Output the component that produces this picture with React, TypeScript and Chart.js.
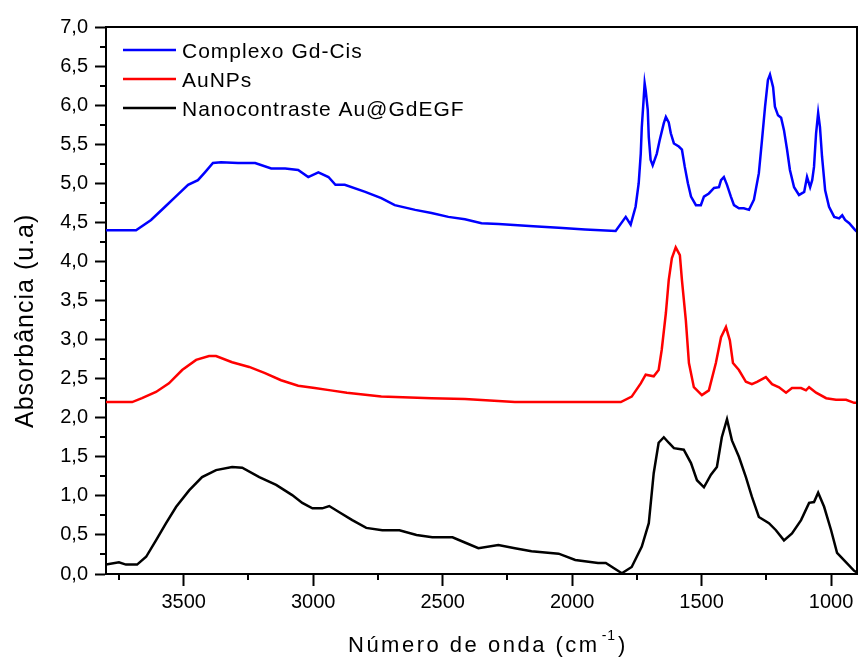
import React, { useEffect, useRef } from 'react';
import { Chart, registerables } from 'chart.js';

Chart.register(...registerables);

const FONT = "'Liberation Sans', Arial, sans-serif";

// Tick values
const xTickValues = [3500, 3000, 2500, 2000, 1500, 1000];
const xMinorValues = [3750, 3250, 2750, 2250, 1750, 1250];
const yTickValues = [0, 0.5, 1, 1.5, 2, 2.5, 3, 3.5, 4, 4.5, 5, 5.5, 6, 6.5, 7];
const yMinorValues = [0.25, 0.75, 1.25, 1.75, 2.25, 2.75, 3.25, 3.75, 4.25, 4.75, 5.25, 5.75, 6.25, 6.75];

const seriesNames = ['Complexo Gd-Cis', 'AuNPs', 'Nanocontraste Au@GdEGF'];
const seriesColors = ['#0000ff', '#ff0000', '#000000'];

// Complexo Gd-Cis (blue)
const blueX = [3800, 3684, 3626, 3572, 3534, 3483, 3445, 3418, 3387, 3356, 3290, 3224, 3162, 3108, 3058, 3019, 2980, 2941, 2914, 2878, 2799, 2737, 2685, 2606, 2543, 2478, 2414, 2350, 2284, 2150, 2052, 1950, 1832, 1793, 1774, 1755, 1743, 1735, 1731, 1724, 1720, 1716, 1708, 1704, 1697, 1689, 1673, 1662, 1646, 1638, 1627, 1619, 1607, 1588, 1576, 1565, 1553, 1541, 1522, 1503, 1491, 1472, 1452, 1433, 1425, 1414, 1402, 1387, 1375, 1356, 1337, 1317, 1298, 1279, 1267, 1255, 1244, 1236, 1224, 1217, 1205, 1193, 1182, 1170, 1159, 1143, 1124, 1104, 1093, 1081, 1073, 1066, 1058, 1050, 1043, 1035, 1023, 1008, 988, 969, 957, 946, 930, 907, 900];
const blueY = [4.40, 4.40, 4.53, 4.70, 4.82, 4.98, 5.04, 5.14, 5.26, 5.27, 5.26, 5.26, 5.19, 5.19, 5.17, 5.08, 5.14, 5.08, 4.98, 4.98, 4.89, 4.81, 4.72, 4.66, 4.62, 4.57, 4.54, 4.49, 4.48, 4.45, 4.43, 4.41, 4.39, 4.57, 4.47, 4.70, 5.00, 5.38, 5.72, 6.07, 6.28, 6.19, 5.94, 5.59, 5.30, 5.23, 5.38, 5.55, 5.77, 5.85, 5.78, 5.64, 5.51, 5.47, 5.43, 5.21, 5.00, 4.83, 4.72, 4.72, 4.83, 4.87, 4.94, 4.95, 5.04, 5.08, 4.98, 4.83, 4.72, 4.68, 4.68, 4.66, 4.79, 5.13, 5.55, 5.98, 6.32, 6.39, 6.23, 5.98, 5.87, 5.84, 5.68, 5.43, 5.17, 4.95, 4.85, 4.89, 5.08, 4.95, 5.04, 5.21, 5.64, 5.90, 5.72, 5.34, 4.91, 4.70, 4.57, 4.55, 4.59, 4.53, 4.49, 4.40, 4.38];

// AuNPs (red)
const redX = [3800, 3699, 3661, 3607, 3557, 3506, 3452, 3402, 3375, 3313, 3247, 3186, 3124, 3058, 2994, 2932, 2870, 2737, 2543, 2414, 2221, 2000, 1812, 1770, 1735, 1716, 1685, 1666, 1654, 1638, 1627, 1615, 1600, 1584, 1576, 1561, 1549, 1530, 1499, 1472, 1445, 1425, 1406, 1391, 1379, 1356, 1329, 1306, 1286, 1252, 1228, 1201, 1174, 1151, 1116, 1097, 1085, 1058, 1019, 981, 942, 911, 900];
const redY = [2.20, 2.20, 2.25, 2.33, 2.44, 2.61, 2.74, 2.79, 2.79, 2.71, 2.65, 2.57, 2.48, 2.41, 2.38, 2.35, 2.32, 2.27, 2.25, 2.24, 2.20, 2.20, 2.20, 2.27, 2.44, 2.55, 2.53, 2.61, 2.87, 3.34, 3.76, 4.04, 4.18, 4.08, 3.76, 3.25, 2.70, 2.39, 2.29, 2.35, 2.70, 3.03, 3.16, 2.99, 2.70, 2.61, 2.46, 2.43, 2.46, 2.52, 2.43, 2.39, 2.32, 2.38, 2.38, 2.35, 2.39, 2.32, 2.25, 2.23, 2.23, 2.19, 2.19];

// Nanocontraste Au@GdEGF (black)
const blackX = [3800, 3750, 3723, 3680, 3645, 3607, 3568, 3529, 3479, 3429, 3375, 3313, 3274, 3208, 3143, 3081, 3042, 3003, 2965, 2938, 2899, 2849, 2795, 2733, 2667, 2601, 2540, 2462, 2412, 2362, 2285, 2221, 2157, 2052, 1988, 1900, 1870, 1808, 1770, 1731, 1704, 1685, 1666, 1646, 1627, 1607, 1569, 1541, 1518, 1491, 1464, 1441, 1422, 1402, 1383, 1356, 1329, 1306, 1279, 1240, 1213, 1182, 1151, 1116, 1085, 1066, 1050, 1027, 1000, 977, 942, 911, 900];
const blackY = [0.12, 0.15, 0.12, 0.12, 0.22, 0.43, 0.65, 0.86, 1.07, 1.24, 1.33, 1.37, 1.36, 1.24, 1.14, 1.01, 0.91, 0.84, 0.84, 0.87, 0.79, 0.69, 0.59, 0.56, 0.56, 0.50, 0.47, 0.47, 0.40, 0.33, 0.37, 0.33, 0.29, 0.26, 0.18, 0.14, 0.14, 0.01, 0.09, 0.35, 0.65, 1.29, 1.68, 1.75, 1.68, 1.61, 1.59, 1.42, 1.20, 1.11, 1.27, 1.37, 1.75, 1.98, 1.71, 1.50, 1.24, 0.99, 0.73, 0.65, 0.56, 0.43, 0.52, 0.69, 0.91, 0.92, 1.04, 0.86, 0.56, 0.27, 0.15, 0.04, 0.02];

const toPoints = (xs: number[], ys: number[]) => xs.map((x, i) => ({ x, y: ys[i] }));

const framePlugin = {
  id: 'frame',
  afterDraw(chart: any) {
    const { ctx, chartArea } = chart;
    const xs = chart.scales.x;
    const ys = chart.scales.y;
    ctx.save();
    ctx.strokeStyle = '#000';
    ctx.lineWidth = 2;
    // top and right border
    ctx.beginPath();
    ctx.moveTo(chartArea.left, chartArea.top);
    ctx.lineTo(chartArea.right, chartArea.top);
    ctx.lineTo(chartArea.right, chartArea.bottom);
    ctx.stroke();
    // minor ticks
    ctx.beginPath();
    xMinorValues.forEach((v) => {
      const px = Math.round(xs.getPixelForValue(v));
      ctx.moveTo(px, chartArea.bottom);
      ctx.lineTo(px, chartArea.bottom + 6);
    });
    yMinorValues.forEach((v) => {
      const py = Math.round(ys.getPixelForValue(v));
      ctx.moveTo(chartArea.left, py);
      ctx.lineTo(chartArea.left - 6, py);
    });
    ctx.stroke();

    // legend
    ctx.lineWidth = 2.5;
    const legendY = [50, 79, 108];
    ctx.font = `21px ${FONT}`;
    (ctx as any).letterSpacing = '1px';
    ctx.textBaseline = 'alphabetic';
    ctx.textAlign = 'left';
    seriesNames.forEach((name, i) => {
      ctx.strokeStyle = seriesColors[i];
      ctx.beginPath();
      ctx.moveTo(123, legendY[i]);
      ctx.lineTo(176, legendY[i]);
      ctx.stroke();
      ctx.fillStyle = '#000';
      ctx.fillText(name, 182, legendY[i] + 8);
    });

    // y title
    ctx.save();
    ctx.translate(33, 428);
    ctx.rotate(-Math.PI / 2);
    ctx.font = `25px ${FONT}`;
    (ctx as any).letterSpacing = '1px';
    ctx.fillStyle = '#000';
    ctx.fillText('Absorbância (u.a)', 0, 0);
    ctx.restore();

    // x title
    ctx.font = `22px ${FONT}`;
    (ctx as any).letterSpacing = '2.5px';
    ctx.fillStyle = '#000';
    const part1 = 'Número de onda (cm';
    let x = 348;
    const y = 652;
    ctx.fillText(part1, x, y);
    x += ctx.measureText(part1).width;
    ctx.font = `14px ${FONT}`;
    (ctx as any).letterSpacing = '1px';
    ctx.fillText('-1', x + 2, y - 12);
    x += ctx.measureText('-1').width + 4;
    ctx.font = `22px ${FONT}`;
    (ctx as any).letterSpacing = '2.5px';
    ctx.fillText(')', x, y);
    ctx.restore();
  },
};

export default function App() {
  const canvasRef = useRef<HTMLCanvasElement>(null);

  useEffect(() => {
    if (!canvasRef.current) return;
    const datasets = [
      toPoints(blueX, blueY),
      toPoints(redX, redY),
      toPoints(blackX, blackY),
    ].map((data, i) => ({
      label: seriesNames[i],
      data,
      borderColor: seriesColors[i],
      backgroundColor: seriesColors[i],
      borderWidth: 2.5,
      pointRadius: 0,
      tension: 0,
      fill: false,
    }));

    const chart = new Chart(canvasRef.current, {
      type: 'line',
      data: { datasets },
      plugins: [framePlugin],
      options: {
        animation: false,
        responsive: false,
        layout: { padding: { top: 27, right: 1, left: 0, bottom: 0 } },
        plugins: { legend: { display: false }, tooltip: { enabled: false } },
        scales: {
          x: {
            type: 'linear',
            min: 900,
            max: 3800,
            reverse: true,
            afterBuildTicks: (scale: any) => {
              scale.ticks = xTickValues.map((v) => ({ value: v }));
            },
            afterFit: (scale: any) => {
              scale.height = 83;
            },
            grid: { drawOnChartArea: false, drawTicks: true, tickLength: 12, tickWidth: 2, tickColor: '#000' },
            border: { display: true, color: '#000', width: 2 },
            ticks: {
              color: '#000',
              padding: 4,
              maxRotation: 0,
              autoSkip: false,
              font: { family: FONT, size: 20 },
              callback: (v: any) => String(v),
            },
          },
          y: {
            type: 'linear',
            min: 0,
            max: 7,
            afterBuildTicks: (scale: any) => {
              scale.ticks = yTickValues.map((v) => ({ value: v }));
            },
            afterFit: (scale: any) => {
              scale.width = 106;
            },
            grid: { drawOnChartArea: false, drawTicks: true, tickLength: 11, tickWidth: 2, tickColor: '#000' },
            border: { display: true, color: '#000', width: 2 },
            ticks: {
              color: '#000',
              padding: 7,
              autoSkip: false,
              font: { family: FONT, size: 20 },
              callback: (v: any) => Number(v).toFixed(1).replace('.', ','),
            },
          },
        },
      },
    });
    return () => chart.destroy();
  }, []);

  return (
    <div style={{ position: 'absolute', left: 0, top: 0, width: 858, height: 657, background: '#fff' }}>
      <canvas ref={canvasRef} width={858} height={657} style={{ display: 'block' }} />
    </div>
  );
}
